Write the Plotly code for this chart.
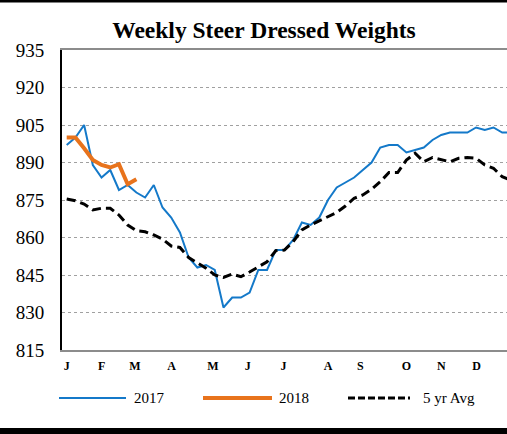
import plotly.graph_objects as go

weeks = list(range(1, 53))
y2017 = [897, 900, 905, 889, 884, 887, 879, 881, 878, 876, 881, 872, 868, 862, 852, 848,
         849, 847, 832, 836, 836, 838, 847, 847, 855, 855, 859, 866, 865, 868, 875, 880,
         882, 884, 887, 890, 896, 897, 897, 894, 895, 896, 899, 901, 902, 902, 902, 904,
         903, 904, 902, 902]
y2018 = [900, 900, 895.7, 891, 889, 888, 889.3, 881.3, 883.3]
avg5 = [875.4, 874.7, 873.4, 871, 871.7, 871.7, 869, 865, 862.7, 862.3, 861, 859.4, 856.6,
        856, 852, 850, 847.7, 845, 844, 845.4, 844.3, 846.2, 848.3, 850.3, 854.7, 855,
        858.3, 863, 865, 866.6, 868.3, 870, 872.6, 875.7, 877, 879.3, 882.3, 886, 886,
        891, 893.7, 890.3, 892, 891.3, 890.3, 891.7, 892, 891.7, 889, 887.7, 884.3, 883]
month_labels = ["J", "F", "M", "A", "M", "J", "J", "A", "S", "O", "N", "D"]
month_pos = [1, 5.02, 8.84, 13.05, 17.8, 21.8, 25.9, 31.0, 34.7, 40.0, 44.0, 48.05]
y_ticks = [815, 830, 845, 860, 875, 890, 905, 920, 935]

BLUE = "#1479C9"
ORANGE = "#E8731C"
SERIF = "Liberation Serif, Times New Roman, DejaVu Serif, serif"

W, H = 507, 434
L, R, T, B = 62, 0, 50, 84
PW, PH = W - L - R, H - T - B

def px(x):
    return (x - L) / PW

def py(y):
    return (H - B - y) / PH

fig = go.Figure()
fig.add_trace(go.Scatter(x=weeks, y=y2017, mode="lines", name="2017",
                         line=dict(color=BLUE, width=2)))
fig.add_trace(go.Scatter(x=weeks[:len(y2018)], y=y2018, mode="lines", name="2018",
                         line=dict(color=ORANGE, width=4)))
fig.add_trace(go.Scatter(x=weeks, y=avg5, mode="lines", name="5 yr Avg",
                         line=dict(color="black", width=3, dash="9px,5px")))

shapes = [
    dict(type="rect", xref="paper", yref="paper", x0=px(0), x1=px(W),
         y0=py(2.5), y1=py(0), fillcolor="black", line=dict(width=0), layer="above"),
    dict(type="rect", xref="paper", yref="paper", x0=px(0), x1=px(W),
         y0=py(428), y1=py(H), fillcolor="black", line=dict(width=0), layer="above"),
    dict(type="line", xref="paper", yref="paper", x0=px(59), x1=px(126),
         y0=py(398), y1=py(398), line=dict(color=BLUE, width=2)),
    dict(type="line", xref="paper", yref="paper", x0=px(203), x1=px(272),
         y0=py(398), y1=py(398), line=dict(color=ORANGE, width=4)),
    dict(type="line", xref="paper", yref="paper", x0=px(348), x1=px(410),
         y0=py(398), y1=py(398), line=dict(color="black", width=3, dash="7px,3px")),
]
annotations = [
    dict(text=t, x=px(xx), y=py(398), xref="paper", yref="paper", xanchor="left",
         yanchor="middle", showarrow=False, font=dict(family=SERIF, size=15, color="black"))
    for t, xx in [("2017", 132), ("2018", 277), ("5 yr Avg", 421)]
]

fig.update_layout(
    width=W, height=H,
    margin=dict(l=L, r=R, t=T, b=B),
    paper_bgcolor="white", plot_bgcolor="white",
    showlegend=False,
    title=dict(text="<b>Weekly Steer Dressed Weights</b>", x=264 / W, xanchor="center",
               y=1 - 30 / H, yanchor="middle",
               font=dict(family=SERIF, size=23.5, color="black")),
    shapes=shapes, annotations=annotations,
    xaxis=dict(range=[1 - (66.7 - L) / 8.71, 1 + (W - 66.7) / 8.71],
               tickmode="array", tickvals=month_pos,
               ticktext=["<b>%s</b>" % m for m in month_labels],
               tickfont=dict(family=SERIF, size=12, color="black"),
               showgrid=False, zeroline=False, ticks="", ticklabelstandoff=4,
               showline=True, linecolor="#8c8c8c", linewidth=2, mirror=True),
    yaxis=dict(range=[815, 935], tickmode="array", tickvals=y_ticks,
               tickfont=dict(family=SERIF, size=19, color="black"),
               showgrid=True, gridcolor="#a0a0a0", griddash="dot", gridwidth=1,
               zeroline=False, ticks="", ticklabelstandoff=12,
               showline=True, linecolor="black", linewidth=2),
)
fig.write_html("out.html", config={"displayModeBar": False},
               post_script="document.body.style.margin='0';document.body.style.overflow='hidden';")
